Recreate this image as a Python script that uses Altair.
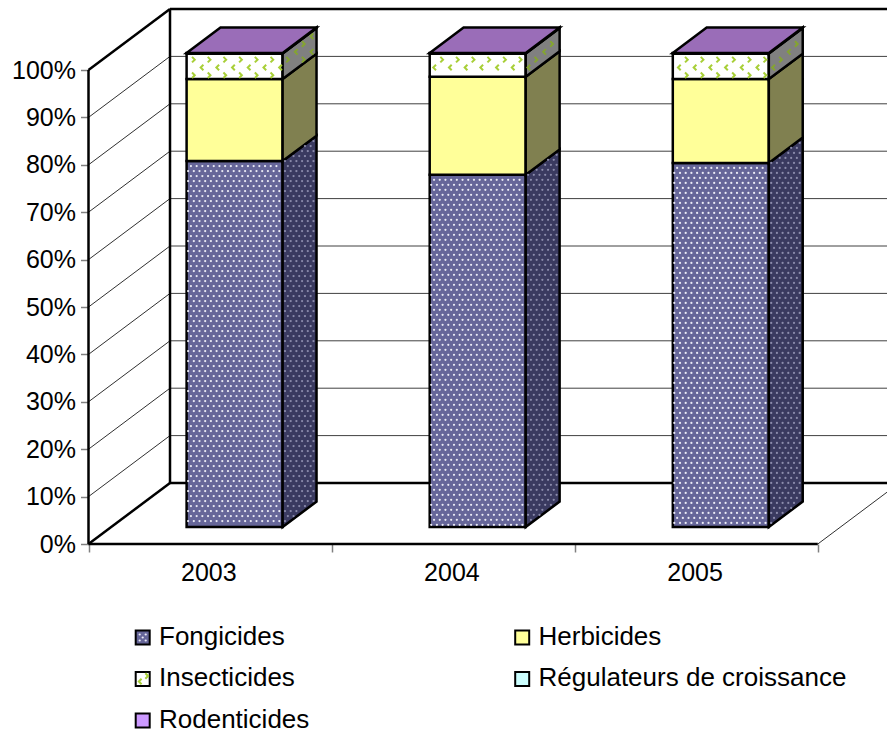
import altair as alt
import pandas as pd

# Pesticide market share by year (percent of the total)
years = ["2003", "2004", "2005"]
series = ["Fongicides", "Herbicides", "Insecticides", "Régulateurs de croissance", "Rodenticides"]
fongicides = [77.2, 74.3, 76.8]
herbicides = [17.3, 20.7, 17.7]
insecticides = [5.4, 4.9, 5.4]
regulateurs = [0.0, 0.0, 0.0]
rodenticides = [0.1, 0.1, 0.1]
table = [fongicides, herbicides, insecticides, regulateurs, rodenticides]

front_colors = ["#666699", "#FFFF99", "#FFFFFF", "#CCFFFF", "#CC99FF"]
side_colors = ["#3A3A60", "#808050", "#808080", "#668080", "#664C80"]
top_color = "#9A6DB8"
FONT = "Liberation Sans"

# Oblique projection: category units and percent on the front plane, depth in 0..1
CAT_PX, PCT_PX = 243.1, 4.74
X0_PX, Y0_PX = 88.5, 544.0
DEPTH_X, DEPTH_Y = 81.5 / CAT_PX, 61.0 / PCT_PX
W, H = 887, 730
BAR_D0, BAR_D1, BAR_LEFT, BAR_W = 0.279, 0.695, 0.31, 0.395
EDGE = 2.5
x_domain = [-X0_PX / CAT_PX, (W - X0_PX) / CAT_PX]
y_domain = [(Y0_PX - H) / PCT_PX, Y0_PX / PCT_PX]
X_MAX = x_domain[1]


def proj(cat, pct, depth):
    return cat + depth * DEPTH_X, pct + depth * DEPTH_Y


def to_px(x, y):
    return X0_PX + x * CAT_PX, Y0_PX - y * PCT_PX


def to_units(px, py):
    return (px - X0_PX) / CAT_PX, (Y0_PX - py) / PCT_PX


# Structural lines of the 3D box
lines = []


def seg(a, b, width, color):
    lines.append(dict(x=a[0], y=a[1], x2=b[0], y2=b[1], w=width, c=color))


for pct in range(0, 101, 10):
    heavy = pct in (0, 100)
    w_line = EDGE if heavy else 1.0
    seg(proj(0, pct, 0), proj(0, pct, 1), w_line, "#000000" if heavy else "#303030")
    seg(proj(0, pct, 1), (X_MAX, proj(0, pct, 1)[1]), w_line, "#000000" if heavy else "#404040")
seg(proj(0, 0, 0), proj(0, 100, 0), EDGE, "#000000")
seg(proj(0, 0, 1), proj(0, 100, 1), EDGE, "#000000")
seg(proj(0, 0, 0), proj(3, 0, 0), EDGE, "#000000")
seg(proj(3, 0, 0), (X_MAX, (X_MAX - 3) / DEPTH_X * DEPTH_Y), 1.0, "#303030")
lines_df = pd.DataFrame(lines)

front, sides, tops = [], [], []
for i, year in enumerate(years):
    base = 0.0
    l, r = i + BAR_LEFT, i + BAR_LEFT + BAR_W
    for s, name in enumerate(series):
        val = table[s][i]
        top = base + val
        x0, y0 = proj(l, base, BAR_D0)
        x1, y1 = proj(r, top, BAR_D0)
        front.append(dict(x=x0, x2=x1, y=y0, y2=y1, serie=name, year=year, fill=front_colors[s]))
        if val > 0:
            for d in (BAR_D0, BAR_D1):
                xa, ya = proj(r, top, d)
                _, yb = proj(r, base, d)
                sides.append(dict(x=xa, y=ya, y2=yb, fid=f"{i}-{s}", fill=side_colors[s]))
        base = top
    for d in (BAR_D0, BAR_D1):
        xl, yy = proj(l, base, d)
        xr, _ = proj(r, base, d)
        tops.append(dict(x=xl, x2=xr, y=yy, fid=str(i), fill=top_color))
front_df = pd.DataFrame(front)
sides_df = pd.DataFrame(sides)
tops_df = pd.DataFrame(tops)


def frange(a, b, step):
    out = []
    v = a
    while v <= b:
        out.append(v)
        v += step
    return out


def in_face(px, py, poly, m):
    (l, r, tl, tr, bl, br) = poly
    if px < l + m or px > r - m:
        return False
    f = (px - l) / (r - l)
    return tl + (tr - tl) * f + m <= py <= bl + (br - bl) * f - m


def face_polys(i, base, top):
    """Pixel outlines of the front and side faces of one stacked segment."""
    l = i + BAR_LEFT
    r = l + BAR_W
    xl, yb = to_px(*proj(l, base, BAR_D0))
    xr, yt = to_px(*proj(r, top, BAR_D0))
    xs, ybs = to_px(*proj(r, base, BAR_D1))
    _, yts = to_px(*proj(r, top, BAR_D1))
    return (xl, xr, yt, yt, yb, yb), (xr, xs, yt, yts, yb, ybs)


# Fill textures, laid out on a screen-aligned grid inside each face
DOT_DX, DOT_DY = 5.7, 5.0
CHEV_DX, CHEV_DY = 15.7, 7.8
chev_phase = [6.8, 12.0, 13.6]
dots, chevs = [], []
for i in range(len(years)):
    f_front, f_side = face_polys(i, 0, fongicides[i])
    start = f_front[0] + 1.5
    for k, py in enumerate(frange(f_front[2] - 30, f_front[4], DOT_DY)):
        for px in frange(start + (k % 2) * DOT_DX / 2, f_side[1], DOT_DX):
            ux, uy = to_units(px, py)
            if in_face(px, py, f_front, 1.5):
                dots.append(dict(x=round(ux, 4), y=round(uy, 3), c="#ECECF6"))
            elif in_face(px, py, f_side, 1.5):
                dots.append(dict(x=round(ux, 4), y=round(uy, 3), c="#8C8CAC"))
    base = fongicides[i] + herbicides[i]
    i_front, i_side = face_polys(i, base, base + insecticides[i])
    start = i_front[0] + chev_phase[i]
    for k, py in enumerate(frange(i_front[2] - 26 + 1, i_front[4], CHEV_DY)):
        shift = -CHEV_DX * 0.45 if k % 2 else 0
        for px in frange(start + shift - CHEV_DX, i_side[1], CHEV_DX):
            ux, uy = to_units(px, py)
            kind = "<" if k % 2 else ">"
            if in_face(px, py, i_front, 2.0):
                chevs.append(dict(x=ux, y=uy, k=kind, c="#A8CF38"))
            elif in_face(px, py, i_side, 2.0):
                chevs.append(dict(x=ux, y=uy, k=kind, c="#84A430"))

# Legend: swatches and labels, filled row by row over two columns
LEG_COLS_PX = [142.7, 522.2]
LEG_ROWS_PX = [637.5, 679.0, 720.5]
legend = []
for s, name in enumerate(series):
    px, py = LEG_COLS_PX[s % 2], LEG_ROWS_PX[s // 2]
    ux, uy = to_units(px, py)
    lx, ly = to_units(px + 16.3, py - 1)
    legend.append(dict(x=ux, y=uy, lx=lx, ly=ly, t=name, fill=front_colors[s]))
legend_df = pd.DataFrame(legend)

for ox, oy in [(-3, -3), (3, -3), (0, 0), (-3, 3), (3, 3)]:
    ux, uy = to_units(LEG_COLS_PX[0] + ox, LEG_ROWS_PX[0] + oy)
    dots.append(dict(x=ux, y=uy, c="#ECECF6"))
for ox, oy, kind in [(-2.5, 2.5, "<"), (4, -3, ">")]:
    ux, uy = to_units(LEG_COLS_PX[0] + ox, LEG_ROWS_PX[1] + oy)
    chevs.append(dict(x=ux, y=uy, k=kind, c="#A8CF38"))
dots_df = pd.DataFrame(dots)
chevs_df = pd.DataFrame(chevs)

labels_df = pd.DataFrame(dict(x=[i + 0.495 for i in range(3)], y=[to_units(0, 573)[1]] * 3, t=years))

x_scale = alt.Scale(domain=x_domain, nice=False, zero=False)
y_scale = alt.Scale(domain=y_domain, nice=False, zero=False)
X = lambda f="x": alt.X(f"{f}:Q", scale=x_scale, title=None, stack=None)
Y = lambda f="y": alt.Y(f"{f}:Q", scale=y_scale, title=None, stack=None)
FILL = alt.Fill("fill:N", scale=None)

base_axes = (
    alt.Chart(pd.DataFrame(dict(x=[0.0], y=[0.0])))
    .mark_point(opacity=0)
    .encode(
        x=alt.X(
            "x:Q", scale=x_scale, title=None,
            axis=alt.Axis(values=[0, 1, 2, 3], labels=False, domain=False, grid=False, tickSize=8,
                          tickColor="#808080", tickWidth=1.5, offset=-(H - Y0_PX)),
        ),
        y=alt.Y(
            "y:Q", scale=y_scale, title=None,
            axis=alt.Axis(values=list(range(0, 101, 10)), labelExpr="datum.value + '%'", domain=False,
                          grid=False, tickSize=8, tickColor="#808080", tickWidth=1.5, offset=-X0_PX,
                          labelFontSize=25, labelFont=FONT, labelColor="#000000", labelPadding=5,
                          labelOverlap=False, labelFlush=False),
        ),
    )
)

rules = alt.Chart(lines_df).mark_rule().encode(
    x=X(), x2="x2:Q", y=Y(), y2="y2:Q",
    strokeWidth=alt.StrokeWidth("w:Q", scale=None),
    stroke=alt.Stroke("c:N", scale=None),
)

front_layer = alt.Chart(front_df).mark_rect(stroke="#000000", strokeWidth=EDGE).encode(
    x=X(), x2="x2:Q", y=Y(), y2="y2:Q", fill=FILL,
)

side_layer = alt.Chart(sides_df).mark_area(stroke="#000000", strokeWidth=EDGE, interpolate="linear").encode(
    x=X(), y=Y(), y2="y2:Q", detail="fid:N", fill=FILL,
)

top_layer = alt.Chart(tops_df).mark_area(
    stroke="#000000", strokeWidth=EDGE, orient="horizontal", interpolate="linear"
).encode(
    y=Y(), x=X(), x2="x2:Q", detail="fid:N", fill=FILL,
)

legend_swatches = alt.Chart(legend_df).mark_square(size=196, stroke="#000000", strokeWidth=2, opacity=1).encode(
    x=X(), y=Y(), fill=FILL,
)

legend_labels = alt.Chart(legend_df).mark_text(
    font=FONT, fontSize=26, color="#000000", align="left", baseline="middle"
).encode(x=X("lx"), y=Y("ly"), text="t:N")

dot_layer = alt.Chart(dots_df).mark_circle(size=5, opacity=1).encode(
    x=X(), y=Y(), fill=alt.Fill("c:N", scale=None),
)

chev_right = alt.Chart(chevs_df[chevs_df.k == ">"]).mark_point(
    shape="M -0.5 -1 L 0.5 0 L -0.5 1", size=30, filled=False, strokeWidth=2, opacity=1
).encode(x=X(), y=Y(), stroke=alt.Stroke("c:N", scale=None))
chev_left = alt.Chart(chevs_df[chevs_df.k == "<"]).mark_point(
    shape="M 0.5 -1 L -0.5 0 L 0.5 1", size=30, filled=False, strokeWidth=2, opacity=1
).encode(x=X(), y=Y(), stroke=alt.Stroke("c:N", scale=None))

year_labels = alt.Chart(labels_df).mark_text(font=FONT, fontSize=25, color="#000000", baseline="middle").encode(
    x=X(), y=Y(), text="t:N"
)

chart = alt.layer(
    base_axes, rules, front_layer, side_layer, top_layer, legend_swatches, legend_labels,
    dot_layer, chev_right, chev_left, year_labels
).properties(
    width=W, height=H, padding=0, autosize=alt.AutoSizeParams(type="none")
).configure_view(stroke=None)

chart.save("out.html", embed_options={"renderer": "svg", "actions": False})
